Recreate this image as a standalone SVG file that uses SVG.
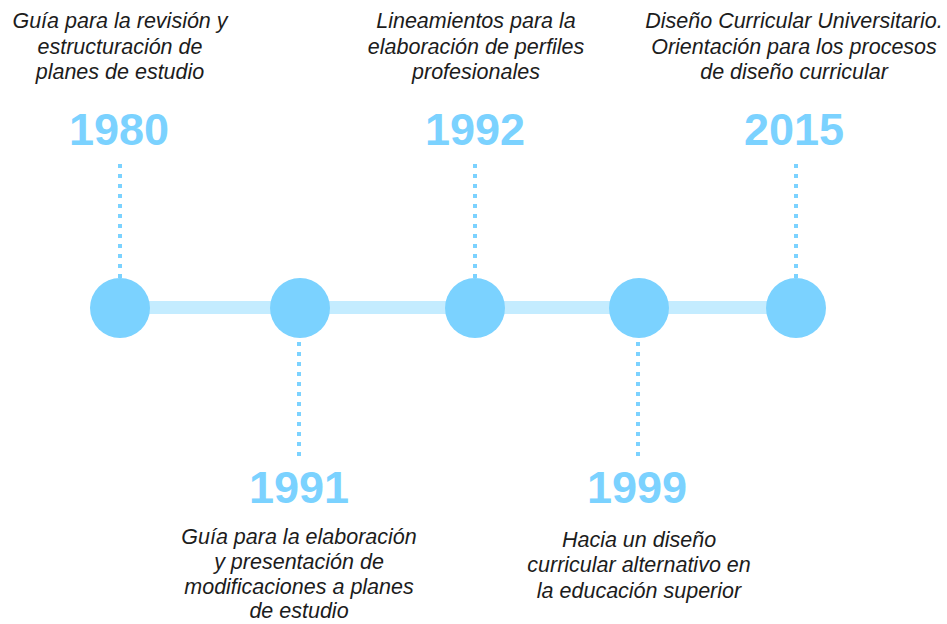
<svg xmlns="http://www.w3.org/2000/svg" width="947" height="624" viewBox="0 0 947 624">
<style>
.desc{font-family:"Liberation Sans",Arial,sans-serif;font-style:italic;font-size:21.5px;fill:#1c1c1c;text-anchor:middle}
.year{font-family:"Liberation Sans",Arial,sans-serif;font-weight:bold;font-size:45px;fill:#7bd2ff;text-anchor:middle}
.dot{stroke:#7bd2ff;stroke-width:4;stroke-dasharray:4 6;fill:none}
.node{fill:#7bd2ff}
</style>
<rect width="947" height="624" fill="#ffffff"/>
<g id="connectors">
<rect x="120" y="301" width="676" height="13" fill="#c4ecff"/>
<line class="dot" x1="120" y1="164" x2="120" y2="280"/>
<line class="dot" x1="475" y1="164" x2="475" y2="280"/>
<line class="dot" x1="796" y1="164" x2="796" y2="280"/>
<line class="dot" x1="299" y1="342" x2="299" y2="458"/>
<line class="dot" x1="638" y1="342" x2="638" y2="458"/>
</g>
<g id="n1980">
<circle class="node" cx="120" cy="308" r="30"/>
<text class="year" x="119" y="145">1980</text>
<text class="desc" x="120" y="28">Guía para la revisión y</text>
<text class="desc" x="120" y="54">estructuración de</text>
<text class="desc" x="120" y="79">planes de estudio</text>
</g>
<g id="n1991">
<circle class="node" cx="300" cy="308" r="30"/>
<text class="year" x="299" y="503">1991</text>
<text class="desc" x="299" y="544">Guía para la elaboración</text>
<text class="desc" x="299" y="569">y presentación de</text>
<text class="desc" x="299" y="594">modificaciones a planes</text>
<text class="desc" x="299" y="618">de estudio</text>
</g>
<g id="n1992">
<circle class="node" cx="475" cy="308" r="30"/>
<text class="year" x="475" y="145">1992</text>
<text class="desc" x="476" y="28">Lineamientos para la</text>
<text class="desc" x="476" y="54">elaboración de perfiles</text>
<text class="desc" x="476" y="79">profesionales</text>
</g>
<g id="n1999">
<circle class="node" cx="639" cy="308" r="30"/>
<text class="year" x="637" y="503">1999</text>
<text class="desc" x="639" y="547">Hacia un diseño</text>
<text class="desc" x="639" y="572">curricular alternativo en</text>
<text class="desc" x="639" y="598">la educación superior</text>
</g>
<g id="n2015">
<circle class="node" cx="796" cy="308" r="30"/>
<text class="year" x="794" y="145">2015</text>
<text class="desc" x="794" y="28">Diseño Curricular Universitario.</text>
<text class="desc" x="794" y="54">Orientación para los procesos</text>
<text class="desc" x="794" y="79">de diseño curricular</text>
</g>
</svg>
